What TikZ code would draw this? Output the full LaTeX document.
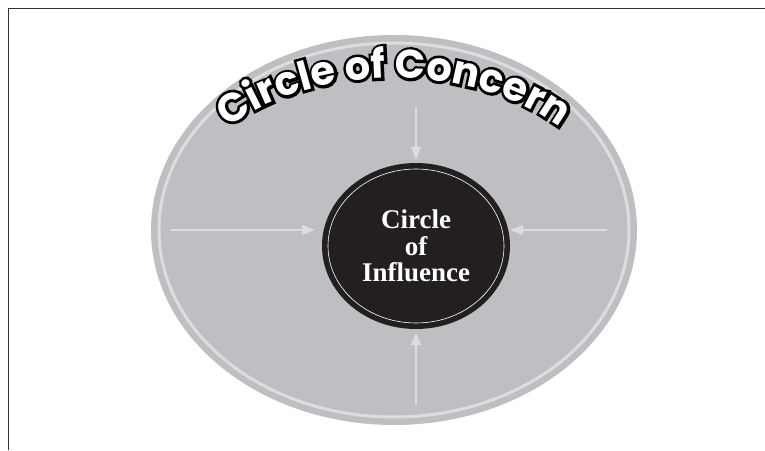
\documentclass[tikz,border=0pt]{standalone}
\usepackage{fontspec}
\usetikzlibrary{positioning, arrows.meta, shapes.geometric, decorations.text}
\setmainfont{Liberation Serif}
\newfontfamily\concernfont{Poppins Bold}
\newfontfamily\concernrim{Poppins Bold}[FakeBold=14]
\definecolor{concerngray}{RGB}{190,191,195}
\definecolor{ringgray}{RGB}{221,221,223}
\definecolor{inkblack}{RGB}{35,31,32}

\begin{document}
\begin{tikzpicture}
    [
        x=1pt, y=1pt, node distance=16pt and 22pt, on grid,
        concern_node/.style={ellipse, fill=concerngray, minimum width=486pt, minimum height=390pt, inner sep=0pt},
        influence_node/.style={ellipse, fill=inkblack, minimum width=188pt, minimum height=166pt, inner sep=0pt, text=white, font=\bfseries\fontsize{27}{26.5}\selectfont, align=center},
        push/.style={-{Triangle[length=13pt, width=10pt]}, line width=1.3pt, color=ringgray},
        arc_text/.style={decorate, decoration={text along path, text align=center, text color=#1}},
    ]
        \useasboundingbox (0,0) rectangle (765,450);
        \draw[line width=0.9pt, color=black!80] (8,0) -- (8,442) -- (765,442);
        \node[concern_node] (concern) at (394,220) {};
        \draw[line width=3pt, color=ringgray] (concern.center) ellipse [x radius=235pt, y radius=187pt];
        \node[influence_node] (influence) [below right=of concern] {Circle\\of\\Influence};
        \draw[line width=0.6pt, color=white] (influence.center) ellipse [x radius=88pt, y radius=77pt];
        % title along the top of the big ellipse
        \path[arc_text=black, decoration={text={|\concernrim\fontsize{40}{40}\selectfont|Circle of Concern}}] (concern.center) ++(155:225 and 152) arc[start angle=155, end angle=25, x radius=225, y radius=152];
        \path[arc_text=white, decoration={text={|\concernfont\fontsize{40}{40}\selectfont|Circle of Concern}}] (concern.center) ++(155:225 and 152) arc[start angle=155, end angle=25, x radius=225, y radius=152];
        % arrows
        \coordinate (tp) at (416,343);
        \coordinate (bt) at (416,45);
        \coordinate (lft) at (170,220);
        \coordinate (rgt) at (607,220);
        \draw[push, shorten >=3pt] (tp) -- (influence.north);
        \draw[push, shorten >=3pt] (bt) -- (influence.south);
        \draw[push, shorten >=7pt] (lft) -- (lft -| influence.west);
        \draw[push] (rgt) -- (rgt -| influence.east);
\end{tikzpicture}
\end{document}
